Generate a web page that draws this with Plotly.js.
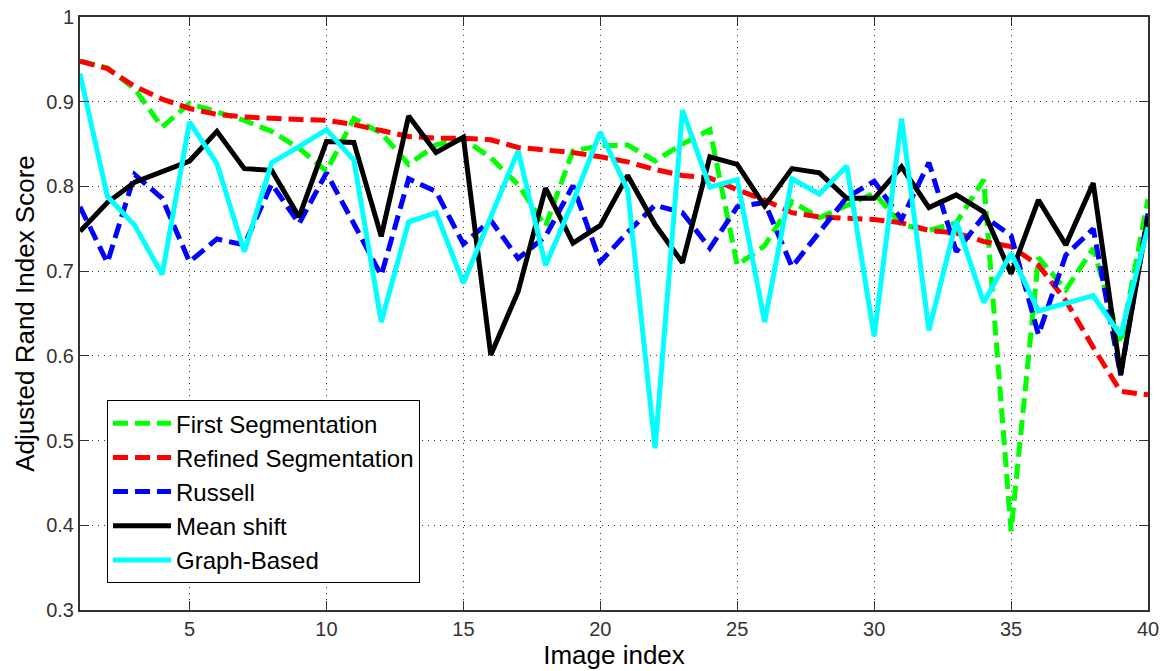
<!DOCTYPE html>
<html>
<head>
<meta charset="utf-8">
<script src="https://cdn.plot.ly/plotly-3.0.1.min.js"></script>
<style>html,body{margin:0;padding:0;background:#fff;}#chart{width:1165px;height:671px;}</style>
</head>
<body>
<div id="chart"></div>
<script>
const imageIndex = Array.from({length: 40}, (_, k) => k + 1);

const firstSegmentation = [0.948,0.940,0.915,0.870,0.898,0.888,0.878,0.865,0.845,0.818,
  0.880,0.863,0.826,0.849,0.856,0.834,0.802,0.753,0.842,0.848,
  0.849,0.830,0.850,0.867,0.707,0.730,0.782,0.763,0.777,0.792,
  0.755,0.748,0.757,0.808,0.393,0.716,0.678,0.727,0.615,0.785];

const refinedSegmentation = [0.948,0.939,0.918,0.903,0.892,0.885,0.882,0.880,0.879,0.878,
  0.873,0.866,0.859,0.857,0.857,0.855,0.846,0.843,0.840,0.835,
  0.829,0.820,0.813,0.810,0.796,0.784,0.769,0.764,0.763,0.761,
  0.757,0.748,0.745,0.735,0.729,0.707,0.665,0.610,0.558,0.554];

const russell = [0.776,0.710,0.814,0.786,0.711,0.738,0.731,0.803,0.756,0.816,
  0.756,0.695,0.809,0.794,0.732,0.760,0.715,0.741,0.801,0.711,
  0.746,0.778,0.769,0.727,0.776,0.781,0.705,0.745,0.787,0.806,
  0.761,0.828,0.723,0.765,0.742,0.625,0.719,0.750,0.577,0.768];

const meanShift = [0.747,0.781,0.805,0.818,0.830,0.865,0.821,0.819,0.764,0.853,
  0.852,0.741,0.883,0.840,0.858,0.601,0.676,0.798,0.733,0.754,
  0.813,0.755,0.710,0.835,0.826,0.777,0.821,0.816,0.786,0.786,
  0.823,0.775,0.790,0.770,0.697,0.784,0.731,0.804,0.578,0.764];

const graphBased = [0.933,0.788,0.754,0.696,0.876,0.827,0.723,0.828,0.847,0.867,
  0.831,0.640,0.758,0.769,0.686,0.764,0.842,0.707,0.782,0.864,
  0.796,0.491,0.890,0.799,0.808,0.640,0.809,0.791,0.824,0.623,
  0.880,0.630,0.759,0.663,0.721,0.653,0.662,0.671,0.624,0.752];

const xTicks = [5,10,15,20,25,30,35,40];
const yTicks = [0.3,0.4,0.5,0.6,0.7,0.8,0.9,1];
const yTickLabels = ['0.3','0.4','0.5','0.6','0.7','0.8','0.9','1'];

const seriesNames = ['First Segmentation','Refined Segmentation','Russell','Mean shift','Graph-Based'];
const seriesData = [firstSegmentation, refinedSegmentation, russell, meanShift, graphBased];
const seriesColors = ['#00ff00','#ff0000','#0000ff','#000000','#00ffff'];
const seriesDash = ['15px,7px','15px,7px','15px,7px','solid','solid'];

const traces = seriesNames.map((name, k) => ({
  x: imageIndex,
  y: seriesData[k],
  type: 'scatter',
  mode: 'lines',
  name: name,
  line: {color: seriesColors[k], width: 5, dash: seriesDash[k]}
}));

const font = 'Liberation Sans, Arial, Helvetica, sans-serif';

const layout = {
  width: 1165, height: 671,
  margin: {l: 80, r: 17, t: 17, b: 61},
  paper_bgcolor: '#fff', plot_bgcolor: '#fff',
  showlegend: true,
  legend: {
    x: 0.0253, y: 0.354, xanchor: 'left', yanchor: 'top',
    bgcolor: '#fff', bordercolor: '#000', borderwidth: 1,
    font: {family: font, size: 24, color: '#000'},
    itemwidth: 58, tracegroupgap: 0
  },
  xaxis: {
    range: [1, 40], tickvals: xTicks, ticktext: xTicks.map(String),
    showgrid: true, gridcolor: '#333', griddash: '1px,5px', gridwidth: 1,
    zeroline: false, showline: true, linecolor: '#333', linewidth: 2, mirror: 'ticks',
    ticks: 'inside', ticklen: 9, tickcolor: '#333', tickwidth: 1,
    tickfont: {family: font, size: 20, color: '#333'},
    title: {text: 'Image index', font: {family: font, size: 26, color: '#000'}, standoff: 4}
  },
  yaxis: {
    range: [0.3, 1], tickvals: yTicks, ticktext: yTickLabels,
    showgrid: true, gridcolor: '#333', griddash: '1px,5px', gridwidth: 1,
    zeroline: false, showline: true, linecolor: '#333', linewidth: 2, mirror: 'ticks',
    ticks: 'inside', ticklen: 9, tickcolor: '#333', tickwidth: 1,
    tickfont: {family: font, size: 20, color: '#333'},
    title: {text: 'Adjusted Rand Index Score', font: {family: font, size: 26, color: '#000'}, standoff: 4}
  }
};

Plotly.newPlot('chart', traces, layout, {displayModeBar: false, staticPlot: true});
</script>
</body>
</html>
